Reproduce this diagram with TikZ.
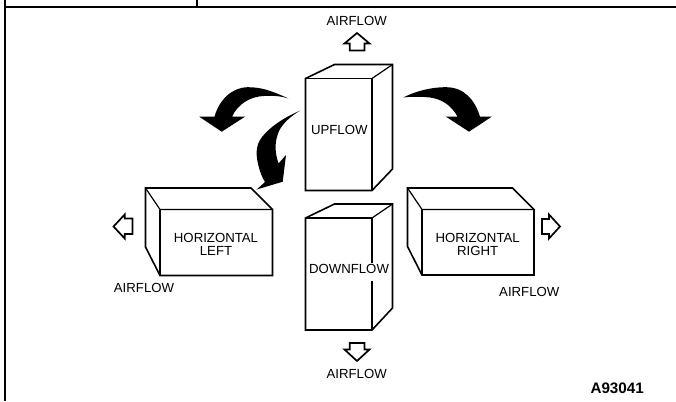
\documentclass[tikz,border=0pt]{standalone}
\usepackage{fontspec}
\setmainfont{Liberation Sans}
\tikzset{
  frameline/.style={line width=2pt,line cap=butt},
  boxline/.style={line width=1.6pt,line join=miter},
  edgeline/.style={line width=1.2pt},
  airarrow/.style={line width=1.7pt,line join=miter,fill=white},
  swoosh/.style={fill=black,draw=none},
  lbl/.style={font=\fontsize{13.2}{13.4}\selectfont,inner sep=0pt,anchor=base,align=center},
  code/.style={font=\fontsize{15.2}{16}\selectfont\bfseries,inner sep=0pt,anchor=base east}
}
\begin{document}
\begin{tikzpicture}[x=1pt,y=-1pt]
\useasboundingbox (0,0) rectangle (676,401);
% frame
\draw[frameline] (5,0) -- (5,401);
\draw[frameline] (5,7.5) -- (676,7.5);
\draw[frameline] (197,0) -- (197,7.5);
% upflow box
\draw[boxline] (305.5,78.5) -- (334.5,64.5) -- (392.5,64.5) -- (392.5,169) -- (372,190.5) -- (305.5,190.5) -- cycle;
\draw[edgeline] (305.5,78.5) -- (372,78.5) -- (372,190.5);
\draw[edgeline] (372,78.5) -- (392.5,64.5);
% downflow box
\draw[boxline] (305.5,218) -- (334.5,204) -- (392.5,204) -- (392.5,308) -- (372,330) -- (305.5,330) -- cycle;
\draw[edgeline] (305.5,218) -- (372,218) -- (372,263);
\draw[edgeline] (372,281) -- (372,330);
\draw[edgeline] (372,218) -- (392.5,204);
% horizontal left box
\draw[boxline] (145.5,188) -- (251,188) -- (272.5,209.5) -- (272.5,275.5) -- (160,275.5) -- (145.5,247) -- cycle;
\draw[edgeline] (145.5,188) -- (160,209.5) -- (272.5,209.5);
\draw[edgeline] (160,209.5) -- (160,275.5);
% horizontal right box
\draw[boxline] (407.5,188) -- (512.5,188) -- (534,209.5) -- (534,275) -- (422,275) -- (407.5,246.5) -- cycle;
\draw[edgeline] (407.5,188) -- (422,209.5) -- (534,209.5);
\draw[edgeline] (422,209.5) -- (422,275);
% airflow arrows
\draw[airarrow] (357,33) -- (344.5,43.5) -- (349.8,43.5) -- (349.8,50.5) -- (364.5,50.5) -- (364.5,43.5) -- (369.5,43.5) -- cycle;
\draw[airarrow] (357,361) -- (344.5,349.5) -- (349.8,349.5) -- (349.8,343) -- (364.5,343) -- (364.5,349.5) -- (369.5,349.5) -- cycle;
\draw[airarrow] (113.5,226.5) -- (124.7,214.5) -- (124.7,218.5) -- (132.5,218.5) -- (132.5,234) -- (124.7,234) -- (124.7,238.5) -- cycle;
\draw[airarrow] (560,226.5) -- (549,214.5) -- (549,219) -- (542,219) -- (542,234) -- (549,234) -- (549,238.5) -- cycle;
% curved arrows
\fill[swoosh] (288.5,98.5) .. controls (272,91) and (262,87.2) .. (248,87.2)
  .. controls (232,87.2) and (219,100) .. (214.5,116.7)
  -- (199.3,116.7) -- (221.7,131.7) -- (245,116.7) -- (232,116.7)
  .. controls (238,104) and (250,96.5) .. (264,96)
  .. controls (273,95.5) and (281,96) .. (288.5,98.5) -- cycle;
\fill[swoosh] (300,110.7) .. controls (283,118) and (270,127) .. (262,137)
  .. controls (255,146) and (256,156) .. (258.5,166)
  .. controls (260,172) and (262,177) .. (265,182)
  -- (256.7,189.5) -- (282.7,181.7) -- (286,155) -- (278.5,163.5)
  .. controls (274,150) and (275,141) .. (279,131)
  .. controls (283,123) and (291,116) .. (300,110.7) -- cycle;
\fill[swoosh] (403.3,97.5) .. controls (415,91.5) and (430,87.2) .. (446,87.2)
  .. controls (464,87.2) and (475,100) .. (480,116.7)
  -- (491.7,116.7) -- (469,131.7) -- (446,116.7) -- (457.5,116.7)
  .. controls (452,106) and (442,99) .. (430,97.5)
  .. controls (420,96.5) and (411,96.5) .. (403.3,97.5) -- cycle;
% labels
\node[lbl] (airtop) at (356.7,25.5) {AIRFLOW};
\node[lbl] (airbottom) at (356.7,378) {AIRFLOW};
\node[lbl] (airleft) at (144,292.3) {AIRFLOW};
\node[lbl] (airright) at (529.3,296.3) {AIRFLOW};
\node[lbl] (up) at (339.3,134) {UPFLOW};
\node[lbl] (down) at (349,273.7) {DOWNFLOW};
\node[lbl] (hleft1) at (216,242) {HORIZONTAL};
\node[lbl] (hleft2) at (216,255.4) {LEFT};
\node[lbl] (hright1) at (477.7,242) {HORIZONTAL};
\node[lbl] (hright2) at (477.7,255.4) {RIGHT};
\node[code] (ref) at (644,393.5) {A93041};
\end{tikzpicture}
\end{document}
